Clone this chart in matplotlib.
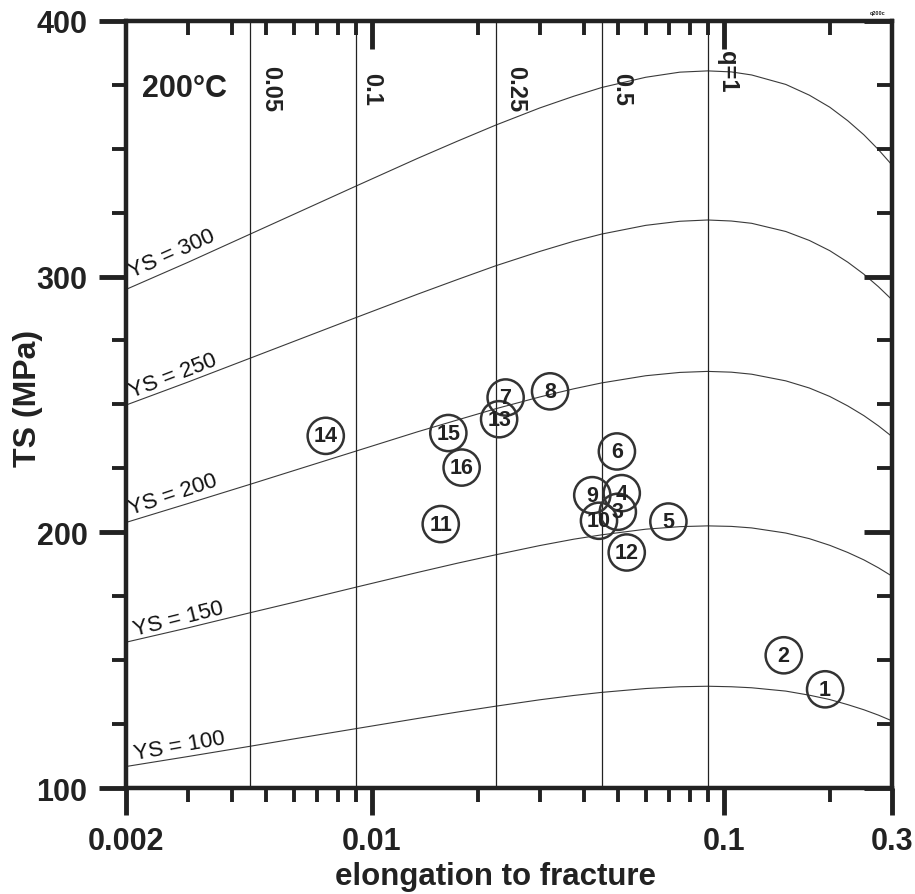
import numpy as np
import matplotlib.pyplot as plt
from matplotlib.ticker import FixedLocator, FixedFormatter, NullFormatter

plt.rcParams['font.family'] = ['Liberation Sans', 'DejaVu Sans']
plt.rcParams['font.weight'] = 'bold'

# elongation values where the iso-YS curves were read
elong = [0.002, 0.003, 0.0045, 0.006, 0.009, 0.0135, 0.0175, 0.0225, 0.03, 0.0375,
         0.045, 0.06, 0.075, 0.09, 0.105, 0.12, 0.15, 0.175, 0.2, 0.225, 0.25, 0.275, 0.3]

ts_ys300 = [294.9, 305.5, 316.5, 324.3, 335.3, 346.2, 352.9, 359.2, 365.9, 370.5, 373.9,
            377.9, 379.9, 380.4, 380.0, 378.8, 375.1, 370.9, 366.2, 360.9, 355.4, 349.6, 343.7]
ts_ys250 = [249.7, 258.7, 268.0, 274.6, 283.9, 293.1, 298.8, 304.2, 309.8, 313.8, 316.6,
            320.0, 321.6, 322.1, 321.7, 320.8, 317.6, 314.1, 310.1, 305.6, 300.9, 296.0, 291.0]
ts_ys200 = [203.8, 211.2, 218.7, 224.1, 231.7, 239.3, 243.9, 248.3, 252.9, 256.1, 258.4,
            261.2, 262.5, 262.9, 262.6, 261.8, 259.2, 256.4, 253.1, 249.4, 245.6, 241.6, 237.5]
ts_ys150 = [157.0, 162.6, 168.5, 172.6, 178.5, 184.3, 187.9, 191.2, 194.8, 197.3, 199.0,
            201.2, 202.2, 202.5, 202.3, 201.7, 199.7, 197.5, 194.9, 192.1, 189.2, 186.1, 182.9]
ts_ys100 = [108.4, 112.3, 116.3, 119.2, 123.2, 127.2, 129.7, 132.0, 134.5, 136.2, 137.4,
            138.9, 139.6, 139.8, 139.6, 139.2, 137.9, 136.3, 134.6, 132.6, 130.6, 128.5, 126.3]

ys_labels = ['YS = 100', 'YS = 150', 'YS = 200', 'YS = 250', 'YS = 300']
ys_curves = [ts_ys100, ts_ys150, ts_ys200, ts_ys250, ts_ys300]

# quality index lines
q_labels = ['0.05', '0.1', '0.25', '0.5', 'q=1']
q_elong = [0.0045, 0.009, 0.0225, 0.045, 0.09]

# numbered samples
sample_id = ['1', '2', '3', '4', '5', '6', '7', '8', '9', '10', '11', '12', '13', '14', '15', '16']
sample_elong = [0.194, 0.148, 0.050, 0.0513, 0.0696, 0.0497, 0.0240, 0.0321,
                0.0423, 0.0442, 0.0157, 0.0530, 0.0230, 0.0074, 0.0165, 0.0180]
sample_ts = [138.6, 151.9, 208.0, 215.3, 204.2, 231.6, 252.7, 255.1,
             214.5, 204.5, 203.2, 192.1, 244.2, 237.7, 238.8, 225.3]

x_major = [0.002, 0.01, 0.1, 0.3]
x_major_labels = ['0.002', '0.01', '0.1', '0.3']
x_minor = [0.003, 0.004, 0.005, 0.006, 0.007, 0.008, 0.009,
           0.02, 0.03, 0.04, 0.05, 0.06, 0.07, 0.08, 0.09, 0.2]
y_major = [100, 200, 300, 400]
y_minor = [125, 150, 175, 225, 250, 275, 325, 350, 375]

ink = '#222222'

fig = plt.figure(figsize=(9.15, 8.95), dpi=100)
ax = fig.add_axes([0.1374, 0.1184, 0.8372, 0.8573])
ax.set_xscale('log')
ax.set_xlim(0.002, 0.3)
ax.set_ylim(100, 400)

for ts in ys_curves:
    ax.plot(elong, ts, color='#3a3a3a', lw=0.8)

for qx in q_elong:
    ax.axvline(qx, color=ink, lw=0.9)

# curve labels
ys_pos = [(0.00212, 111.5), (0.00212, 160.0), (0.00207, 207.0), (0.00208, 253.0), (0.00208, 300.0)]
ys_rot = [10, 14, 18.5, 21, 24]
for lab, (px, py), rot in zip(ys_labels, ys_pos, ys_rot):
    ax.text(px, py, lab, rotation=rot, rotation_mode='anchor', ha='left', va='baseline',
            fontsize=16, fontweight='normal', color='#111111')

# q labels
q_off = [15, 11.5, 14.5, 14.5, 14.5]
q_y = [0.912, 0.912, 0.912, 0.912, 0.935]
for lab, qx, off, qy in zip(q_labels, q_elong, q_off, q_y):
    ax.annotate(lab, xy=(qx, qy), xycoords=('data', 'axes fraction'),
                xytext=(off, 0), textcoords='offset points',
                rotation=270, ha='center', va='center', fontsize=17, color=ink)

ax.scatter(sample_elong, sample_ts, s=680, facecolors='none', edgecolors='#333333',
           linewidths=1.8, zorder=3)
for sid, sx, sy in zip(sample_id, sample_elong, sample_ts):
    ax.text(sx, sy, sid, ha='center', va='center', fontsize=15.5, color=ink, zorder=4)

ax.text(0.0213, 0.913, '200°C', transform=ax.transAxes, fontsize=22, va='center', color=ink)

# ticks: bottom/left outward with labels
ax.xaxis.set_major_locator(FixedLocator(x_major))
ax.xaxis.set_major_formatter(FixedFormatter(x_major_labels))
ax.xaxis.set_minor_locator(FixedLocator(x_minor))
ax.xaxis.set_minor_formatter(NullFormatter())
ax.yaxis.set_major_locator(FixedLocator(y_major))
ax.yaxis.set_minor_locator(FixedLocator(y_minor))
ax.tick_params(which='major', direction='out', length=19.5, width=3.5,
               labelsize=22, pad=8, colors=ink)
ax.tick_params(which='minor', direction='out', length=10, width=2.8, colors=ink)
ax.tick_params(top=False, right=False)
for t in ax.xaxis.get_major_ticks():
    if t.get_loc() in (0.002, 0.3):
        t.tick1line.set_markersize(10)

# top/right ticks pointing inward
axt = ax.twiny()
axt.set_xscale('log')
axt.set_xlim(ax.get_xlim())
axt.xaxis.set_major_locator(FixedLocator([0.01, 0.1]))
axt.xaxis.set_minor_locator(FixedLocator(x_minor))
axt.xaxis.set_minor_formatter(NullFormatter())
axt.tick_params(which='both', direction='in', labeltop=False, top=True, bottom=False, colors=ink)
axt.tick_params(which='major', length=20, width=3.5)
axt.tick_params(which='minor', length=10, width=2.8)

axr = ax.twinx()
axr.set_ylim(ax.get_ylim())
axr.yaxis.set_major_locator(FixedLocator(y_major))
axr.yaxis.set_minor_locator(FixedLocator(y_minor))
axr.tick_params(which='both', direction='in', labelright=False, right=True, left=False, colors=ink)
axr.tick_params(which='major', length=20, width=3.5)
axr.tick_params(which='minor', length=10.5, width=2.8)

for a in (ax, axt, axr):
    for sp in a.spines.values():
        sp.set_linewidth(3)
        sp.set_color(ink)

fig.text(28 / 915, 1 - 398 / 895, 'TS (MPa)', rotation=90, ha='center', va='center',
         fontsize=23, color=ink)
fig.text(496 / 915, 10 / 895, 'elongation to fracture', ha='center', va='baseline',
         fontsize=22.5, color=ink)
fig.text(878 / 915, 1 - 13 / 895, 'q200c', ha='center', va='center', fontsize=4, color=ink)

fig.savefig('out.png', dpi=100)
